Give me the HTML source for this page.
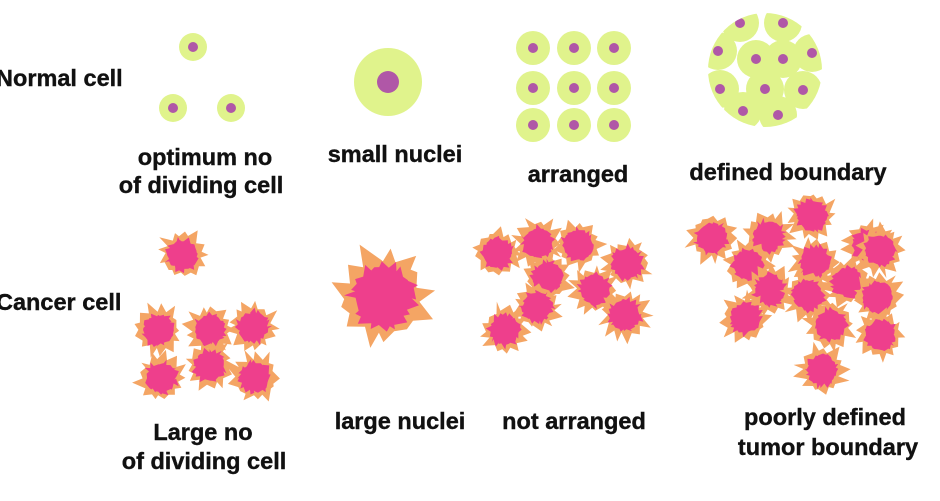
<!DOCTYPE html>
<html><head><meta charset="utf-8"><style>
html,body{margin:0;padding:0;background:#fff;width:940px;height:501px;overflow:hidden}
svg{display:block}
text{font-family:"Liberation Sans",Arial,sans-serif;font-weight:bold;font-size:23.5px;fill:#111;stroke:#111;stroke-width:0.4}
</style></head><body>
<svg id="s" width="940" height="501" viewBox="0 0 940 501" xmlns="http://www.w3.org/2000/svg">
<defs><clipPath id="cp"><circle cx="765" cy="70" r="57"/></clipPath></defs>
<g id="normal"></g>
<g id="bound" clip-path="url(#cp)"></g>
<g id="cancer"></g>
<text x="-4" y="86">Normal cell</text>
<text x="-4" y="310">Cancer cell</text>
<text x="205" y="165" text-anchor="middle">optimum no</text>
<text x="201" y="193" text-anchor="middle">of dividing cell</text>
<text x="395" y="162" text-anchor="middle">small nuclei</text>
<text x="578" y="182" text-anchor="middle">arranged</text>
<text x="788" y="180" text-anchor="middle">defined boundary</text>
<text x="203" y="440" text-anchor="middle">Large no</text>
<text x="204" y="469" text-anchor="middle">of dividing cell</text>
<text x="400" y="429" text-anchor="middle">large nuclei</text>
<text x="574" y="429" text-anchor="middle">not arranged</text>
<text x="825" y="425" text-anchor="middle">poorly defined</text>
<text x="828" y="455" text-anchor="middle">tumor boundary</text>
</svg>
<script>
var NS="http://www.w3.org/2000/svg";
function el(p,t,a){var e=document.createElementNS(NS,t);for(var k in a)e.setAttribute(k,a[k]);document.getElementById(p).appendChild(e);}
function cell(p,x,y,r,n){el(p,'circle',{cx:x,cy:y,r:r,fill:'#e0f38c'});el(p,'circle',{cx:x,cy:y,r:n,fill:'#b057a7'});}
cell('normal',193,47,14,5);cell('normal',173,108,14,5);cell('normal',231,108,14,5);
cell('normal',388,82,34,11);
[533,574,614].forEach(function(x){[48,88,125].forEach(function(y){cell('normal',x,y,17,5);});});
[[740,23],[783,23],[718,51],[756,59],[783,59],[812,53],[720,89],[765,89],[803,90],[743,111],[778,115]].forEach(function(c){cell('bound',c[0],c[1],19,5);});
var seed=7;function rnd(){seed=(seed*9301+49297)%233280;return seed/233280;}
function star(x,y,R,col,pts,inner){var d='';for(var i=0;i<pts*2;i++){var a=i*Math.PI/pts+(rnd()-0.5)*0.25;var r=(i%2?R*inner*(0.9+rnd()*0.15):R*(0.75+rnd()*0.35));d+=(i?'L':'M')+(x+r*Math.cos(a)).toFixed(1)+','+(y+r*Math.sin(a)).toFixed(1);}el('cancer','path',{d:d+'Z',fill:col});}
function cc(x,y,R){star(x,y,R,'#f4a564',13,0.7);star(x,y,R*0.66,'#ee3f8c',20,0.85);}
[[183,255],[158,330],[210,330],[253,327],[161,378],[210,366],[255,377],
[497,253],[538,243],[578,245],[548,277],[627,263],[595,290],[537,307],[505,330],[625,315],
[712,238],[768,236],[812,215],[868,245],[748,265],[815,262],[880,250],[770,290],[808,295],[848,282],[878,297],[745,318],[830,325],[880,335],[822,370]].forEach(function(c){cc(c[0],c[1],27);});
cc(383,296,54);
</script>
</body></html>
